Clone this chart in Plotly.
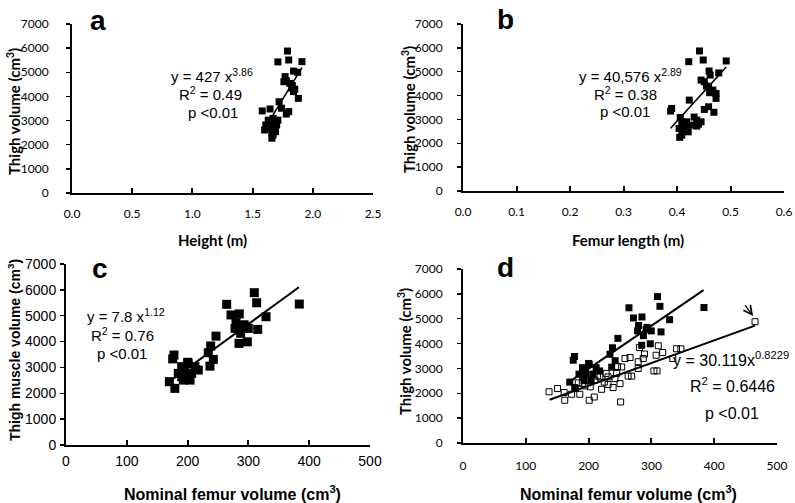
import plotly.graph_objects as go

W, H = 795, 503

# ---------------- data ----------------
# panel a: height (m) vs thigh volume (cm3)
a_height = [1.79, 1.71, 1.80, 1.91, 1.84, 1.875, 1.77, 1.76, 1.81, 1.825, 1.84, 1.88, 1.72, 1.74,
            1.80, 1.78, 1.58, 1.645, 1.61, 1.63, 1.67, 1.65, 1.70, 1.69, 1.66, 1.60, 1.71, 1.67,
            1.68, 1.66, 1.69, 1.64, 1.83, 1.78, 1.85]
a_volume = [5880, 5430, 5510, 5440, 5050, 5000, 4820, 4610, 4540, 4340, 4200, 3920, 3780, 3510,
            3370, 3270, 3400, 3480, 2820, 3020, 3090, 2680, 2820, 2540, 2270, 2610, 3020, 2400,
            2900, 2500, 2700, 2950, 4450, 4650, 4300]
a_trend_x = [1.58, 1.91]
a_trend_y = [2500, 5190]

# panel b: femur length (m) vs thigh volume (cm3)
b_length = [0.442, 0.422, 0.449, 0.492, 0.460, 0.462, 0.478, 0.445, 0.451, 0.459, 0.467, 0.461,
            0.473, 0.473, 0.423, 0.390, 0.388, 0.451, 0.469, 0.406, 0.409, 0.418, 0.437, 0.445,
            0.437, 0.415, 0.426, 0.409, 0.404, 0.421, 0.405, 0.432, 0.440, 0.455, 0.459]
b_volume = [5870, 5420, 5490, 5450, 5030, 4860, 4950, 4650, 4580, 4370, 4230, 4120,
            4090, 3880, 3810, 3460, 3350, 3420, 3300, 3080, 2900, 2900, 2970, 2900,
            2720, 2620, 2760, 2340, 2620, 2480, 2250, 3100, 2800, 4400, 3530]
b_trend_x = [0.388, 0.492]
b_trend_y = [2630, 5200]

# panel c / d (filled): nominal femur volume (cm3) vs thigh (muscle) volume (cm3)
c_femur = [309.7, 313.6, 264.3, 383.7, 271.4, 285, 329, 279.6, 278, 291.6, 299.8, 315.3, 287.3,
           284.5, 298.2, 246.7, 238, 234, 242.3, 236.8, 177.6, 175.5, 190.3, 201, 195.7, 206.7,
           217.6, 184.7, 193, 204, 170, 179, 190.3, 212, 200, 195, 293]
c_volume = [5890, 5500, 5440, 5450, 5030, 5070, 4960, 4730, 4510, 4570, 4510, 4470, 4320,
            3930, 3990, 4210, 3830, 3570, 3310, 3050, 3480, 3330, 3030, 3160, 2770, 2770,
            2900, 2770, 2510, 2510, 2450, 2190, 2640, 3030, 3200, 2900, 4650]
c_trend_x = [171, 383]
c_trend_y = [2470, 6100]

# panel d (open): nominal femur volume (cm3) vs thigh volume (cm3)
d_femur_open = [137, 150.5, 161, 162, 173, 178, 186, 183.5, 194, 201, 209, 202.7, 220.7, 231, 239,
                251, 250, 242, 231, 218, 210, 244.7, 252.7, 263, 268.6, 258, 266, 279, 279, 281,
                287, 289, 304, 309, 307.5, 311, 318, 334, 340, 347, 465, 225, 190, 214, 246, 228]
d_volume_open = [2060, 2190, 2030, 1720, 1960, 2230, 1960, 2420, 2300, 1720, 1850, 2260, 2160, 2350,
                 2230, 1650, 2390, 2590, 2660, 2660, 2530, 2800, 3060, 2690, 2690, 3400, 3440, 3000,
                 3270, 3840, 3400, 3580, 2900, 2900, 3530, 3910, 3640, 3400, 3790, 3790, 4880, 2450,
                 2400, 2700, 3080, 2800]
d_trend_filled_x = [170, 383]
d_trend_filled_y = [2470, 6150]
d_trend_open_x = [138, 465]
d_trend_open_y = [1740, 4720]

y_ticks = [0, 1000, 2000, 3000, 4000, 5000, 6000, 7000]
a_xticks = [0.0, 0.5, 1.0, 1.5, 2.0, 2.5]
a_xlabels = ["0.0", "0.5", "1.0", "1.5", "2.0", "2.5"]
b_xticks = [0.0, 0.1, 0.2, 0.3, 0.4, 0.5, 0.6]
b_xlabels = ["0.0", "0.1", "0.2", "0.3", "0.4", "0.5", "0.6"]
cd_xticks = [0, 100, 200, 300, 400, 500]

CAL = "Lato, Carlito, Calibri, sans-serif"
ARI = "Liberation Sans, Arial, sans-serif"

# ---------------- figure ----------------
fig = go.Figure()

def px_x(p):
    return p / W

def px_y(p):
    return 1 - p / H

sq = dict(symbol="square", color="black", line=dict(width=0))
fig.add_trace(go.Scatter(x=a_height, y=a_volume, mode="markers", marker=dict(size=7, **sq),
                         xaxis="x", yaxis="y", showlegend=False))
fig.add_trace(go.Scatter(x=a_trend_x, y=a_trend_y, mode="lines", line=dict(color="black", width=1.6),
                         xaxis="x", yaxis="y", showlegend=False))
fig.add_trace(go.Scatter(x=b_length, y=b_volume, mode="markers", marker=dict(size=7, **sq),
                         xaxis="x2", yaxis="y2", showlegend=False))
fig.add_trace(go.Scatter(x=b_trend_x, y=b_trend_y, mode="lines", line=dict(color="black", width=1.6),
                         xaxis="x2", yaxis="y2", showlegend=False))
fig.add_trace(go.Scatter(x=c_femur, y=c_volume, mode="markers", marker=dict(size=9, **sq),
                         xaxis="x3", yaxis="y3", showlegend=False))
fig.add_trace(go.Scatter(x=c_trend_x, y=c_trend_y, mode="lines", line=dict(color="black", width=2),
                         xaxis="x3", yaxis="y3", showlegend=False))
fig.add_trace(go.Scatter(x=d_femur_open, y=d_volume_open, mode="markers",
                         marker=dict(symbol="square-open", size=6, color="black", line=dict(width=1)),
                         xaxis="x4", yaxis="y4", showlegend=False))
fig.add_trace(go.Scatter(x=c_femur, y=c_volume, mode="markers", marker=dict(size=7, **sq),
                         xaxis="x4", yaxis="y4", showlegend=False))
fig.add_trace(go.Scatter(x=d_trend_filled_x, y=d_trend_filled_y, mode="lines",
                         line=dict(color="black", width=2), xaxis="x4", yaxis="y4", showlegend=False))
fig.add_trace(go.Scatter(x=d_trend_open_x, y=d_trend_open_y, mode="lines",
                         line=dict(color="black", width=2), xaxis="x4", yaxis="y4", showlegend=False))

def xa(dom, rng, tv, tt, anchor, font, standoff, size=12):
    return dict(domain=dom, range=rng, tickvals=tv, ticktext=tt, anchor=anchor, automargin=False,
                showline=True, linecolor="black", linewidth=2, showgrid=False, zeroline=False,
                ticks="inside", ticklen=5, tickwidth=2, tickcolor="black",
                tickfont=dict(family=font, size=size, color="black"),
                ticklabelstandoff=standoff, fixedrange=True)

def ya(dom, anchor, font, standoff, size=12):
    return dict(domain=dom, range=[0, 7000], tickvals=y_ticks, anchor=anchor, automargin=False,
                showline=True, linecolor="black", linewidth=2, showgrid=False, zeroline=False,
                ticks="outside", ticklen=4, tickwidth=1.5, tickcolor="black",
                tickfont=dict(family=font, size=size, color="black"),
                ticklabelstandoff=standoff, fixedrange=True)

fig.update_layout(
    template="none",
    width=W, height=H, margin=dict(l=0, r=0, t=0, b=0, pad=0, autoexpand=False),
    paper_bgcolor="white", plot_bgcolor="white",
    xaxis=xa([px_x(72), px_x(373)], [0, 2.5], a_xticks, a_xlabels, "y", CAL, 9),
    yaxis=ya([px_y(193), px_y(24)], "x", CAL, 15),
    xaxis2=xa([px_x(463), px_x(784)], [0, 0.6], b_xticks, b_xlabels, "y2", CAL, 9),
    yaxis2=ya([px_y(191), px_y(24)], "x2", CAL, 12),
    xaxis3=xa([px_x(66), px_x(370)], [0, 500], cd_xticks, [str(v) for v in cd_xticks], "y3", ARI, 2, 14),
    yaxis3=ya([px_y(445), px_y(264)], "x3", ARI, 1, size=14),
    xaxis4=xa([px_x(463), px_x(777)], [0, 500], cd_xticks, [str(v) for v in cd_xticks], "y4", CAL, 11),
    yaxis4=ya([px_y(443), px_y(269)], "x4", CAL, 12),
)

ann = []

def txt(x, y, s, font, size, bold=False, angle=0):
    ann.append(dict(x=px_x(x), y=px_y(y), xref="paper", yref="paper", text=s, showarrow=False,
                    textangle=angle, xanchor="center", yanchor="middle",
                    font=dict(family=font, size=size, color="black",
                              weight="bold" if bold else "normal")))

# panel letters
txt(98, 21, "a", ARI, 28, True)
txt(505, 19, "b", ARI, 28, True)
txt(100, 268, "c", ARI, 28, True)
txt(505, 267, "d", ARI, 28, True)

# axis titles
txt(14, 112, "Thigh volume (cm<sup>3</sup>)", CAL, 15, True, -90)
txt(212, 240, "Height (m)", CAL, 15, True)
txt(408, 110, "Thigh volume (cm<sup>3</sup>)", CAL, 15, True, -90)
txt(628, 240, "Femur length (m)", CAL, 15, True)
txt(14, 350, "Thigh muscle volume (cm<sup>3</sup>)", ARI, 14, True, -90)
txt(232, 493, "Nominal femur volume (cm<sup>3</sup>)", ARI, 16, True)
txt(404, 352, "Thigh volume (cm<sup>3</sup>)", CAL, 15, True, -90)
txt(628, 493, "Nominal femur volume (cm<sup>3</sup>)", ARI, 16, True)

# equations
txt(212, 75, "y = 427 x<sup>3.86</sup>", ARI, 15)
txt(210, 94, "R<sup>2</sup> = 0.49", ARI, 15)
txt(213, 113, "p <0.01", ARI, 15)
txt(630, 75, "y = 40,576 x<sup>2.89</sup>", ARI, 15)
txt(625, 94, "R<sup>2</sup> = 0.38", ARI, 15)
txt(625, 112, "p <0.01", ARI, 15)
txt(126, 315, "y = 7.8 x<sup>1.12</sup>", ARI, 15)
txt(122, 334, "R<sup>2</sup> = 0.76", ARI, 15)
txt(122, 353, "p <0.01", ARI, 15)
txt(731, 359, "y = 30.119x<sup>0.8229</sup>", ARI, 16)
txt(732, 385, "R<sup>2</sup> = 0.6446", ARI, 16)
txt(732, 413, "p <0.01", ARI, 16)

# arrow in panel d pointing at the largest open point
ann.append(dict(x=d_femur_open[40] - 3, y=d_volume_open[40] + 230, xref="x4", yref="y4",
                ax=-9, ay=-12, axref="pixel", ayref="pixel", showarrow=True,
                arrowhead=5, arrowsize=1.3, arrowwidth=1.3, arrowcolor="black", text=""))

fig.update_layout(annotations=ann)
fig.write_html("out.html", config={"displayModeBar": False, "staticPlot": True},
               post_script="document.body.style.margin='0';document.body.style.overflow='hidden';")
